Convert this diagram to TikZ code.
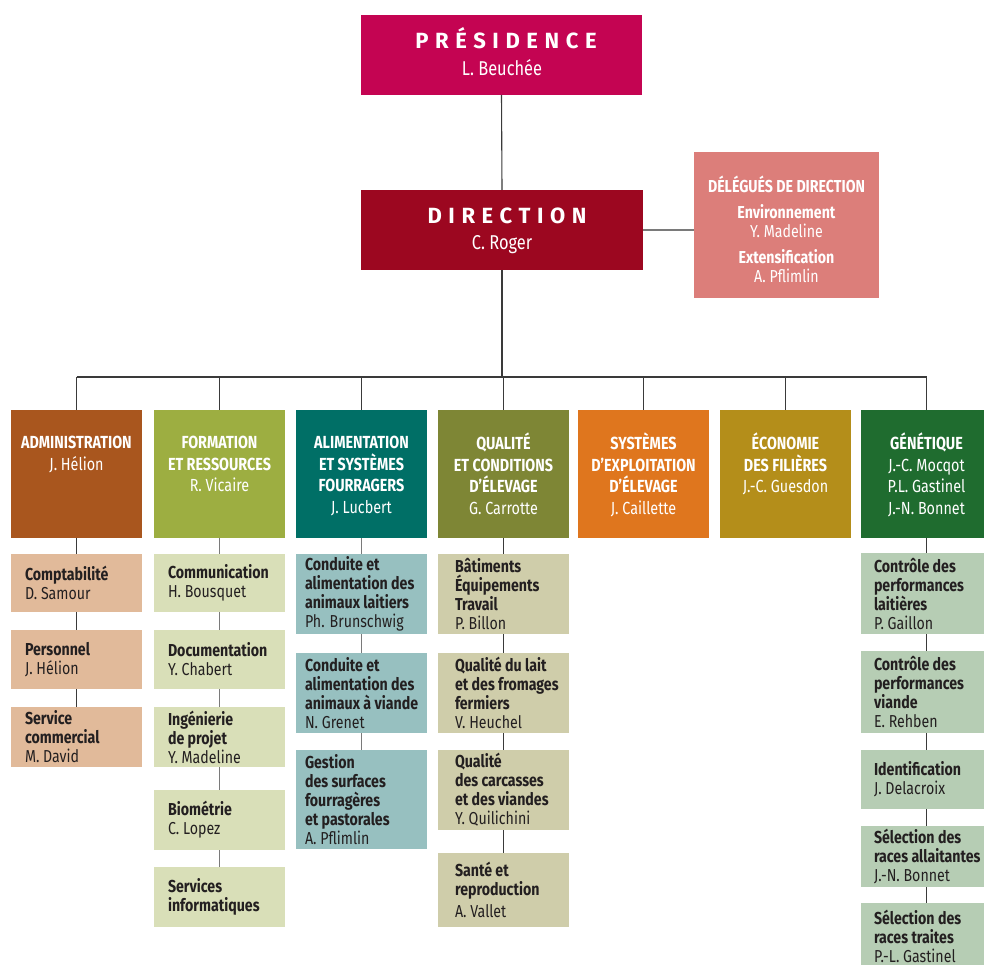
\documentclass[tikz,border=0pt]{standalone}
\usepackage{fontspec}
\setmainfont{Fira Sans}[FakeStretch=0.82]
\newfontfamily\spacedfont{Fira Sans}[LetterSpace=30]
\definecolor{presc}{HTML}{C40452}
\definecolor{dirc}{HTML}{9C0720}
\definecolor{delc}{HTML}{DC7E7A}
\definecolor{admc}{HTML}{A9561E}
\definecolor{formc}{HTML}{9DAE41}
\definecolor{alimc}{HTML}{006F66}
\definecolor{qualc}{HTML}{7E8635}
\definecolor{sysc}{HTML}{DF761E}
\definecolor{ecoc}{HTML}{B48E1A}
\definecolor{genc}{HTML}{1F6C2F}
\definecolor{admL}{HTML}{E1BA9A}
\definecolor{formL}{HTML}{D9DFB8}
\definecolor{alimL}{HTML}{97C0C0}
\definecolor{qualL}{HTML}{CFCDAA}
\definecolor{genL}{HTML}{B6CDB4}
\definecolor{linec}{HTML}{3A3A3A}
\definecolor{lineg}{HTML}{7A7A7A}
\definecolor{txt}{HTML}{231F20}
\tikzset{
  every node/.style={inner sep=0pt, outer sep=0pt},
  box/.style={anchor=north west, minimum width=131pt},
  link/.style={draw=linec, line width=1.1pt},
  glink/.style={draw=lineg, line width=1.3pt},
  hdtext/.style={anchor=north, align=center, text=white, font=\fontsize{17.5}{21.5}\selectfont},
  subtext/.style={anchor=west, align=left, text=txt, font=\fontsize{17.3}{19}\selectfont},
}
\newcommand\dept[4]{%
  \node[box, fill=#3, minimum height=128pt] (#1) at (#2,410) {};
  \node[hdtext] (#1t) at ([yshift=-23pt]#1.north) {\rule{0pt}{15.5pt}#4};
}
\newcommand\subbx[7]{%
  \node[box, fill=#5, minimum height=#4pt] (#1) at (#2,#3) {};
  \node[subtext] (#1t) at ([xshift=#6pt]#1.west) {#7};
}
\begin{document}
\begin{tikzpicture}[x=1pt,y=-1pt]
\useasboundingbox (0,0) rectangle (984,965);
\fill[white] (0,0) rectangle (984,965);

% top
\node[anchor=north west, fill=presc, minimum width=281pt, minimum height=80pt] (pres) at (361,15) {};
\node[anchor=base, text=white, font=\spacedfont\bfseries\fontsize{22}{22}\selectfont] (prest) at (506,48.5) {PRÉSIDENCE};
\node[anchor=base, text=white, font=\fontsize{20}{20}\selectfont] (presn) at (502,76) {L. Beuchée};

\node[anchor=north west, fill=dirc, minimum width=282pt, minimum height=80pt] (dir) at (361,190) {};
\node[anchor=base, text=white, font=\spacedfont\bfseries\fontsize{22}{22}\selectfont] (dirt) at (507,223.5) {DIRECTION};
\node[anchor=base, text=white, font=\fontsize{20}{20}\selectfont] (dirn) at (502,250) {C. Roger};

\node[anchor=north west, fill=delc, minimum width=185pt, minimum height=146pt] (del) at (694,152) {};
\node[anchor=north, align=center, text=white, font=\fontsize{17.3}{19}\selectfont] (delt) at (786.5,176)
  {\rule{0pt}{15.5pt}\textbf{DÉLÉGUÉS DE DIRECTION}\\[7pt]\textbf{Environnement}\\Y. Madeline\\[7pt]\textbf{Extensification}\\A. Pflimlin};

\draw[link] (pres.south) -- (dir.north);
\draw[glink] (dir.east) -- (dir.east -| del.west);

% departments
\dept{adm}{11}{admc}{\textbf{ADMINISTRATION}\\J. Hélion}
\dept{form}{154}{formc}{\textbf{FORMATION}\\\textbf{ET RESSOURCES}\\R. Vicaire}
\dept{alim}{296}{alimc}{\textbf{ALIMENTATION}\\\textbf{ET SYSTÈMES}\\\textbf{FOURRAGERS}\\J. Lucbert}
\dept{qual}{438}{qualc}{\textbf{QUALITÉ}\\\textbf{ET CONDITIONS}\\\textbf{D’ÉLEVAGE}\\G. Carrotte}
\dept{sys}{578}{sysc}{\textbf{SYSTÈMES}\\\textbf{D’EXPLOITATION}\\\textbf{D’ÉLEVAGE}\\J. Caillette}
\dept{eco}{720}{ecoc}{\textbf{ÉCONOMIE}\\\textbf{DES FILIÈRES}\\J.-C. Guesdon}
\dept{gen}{861}{genc}{\textbf{GÉNÉTIQUE}\\J.-C. Mocqot\\P.L. Gastinel\\J.-N. Bonnet}

\coordinate (bus) at (0,377);
\draw[link] (dir.south) -- (dir.south |- bus);
\draw[link] (adm.north |- bus) -- (gen.north |- bus);
\foreach \d in {adm,form,alim,qual,sys,eco,gen} {
  \draw[link] (\d.north |- bus) -- (\d.north);
}

% administration column
\subbx{a1}{11}{554}{58}{admL}{14}{\textbf{Comptabilité}\\D. Samour}
\subbx{a2}{11}{630}{59}{admL}{14}{\textbf{Personnel}\\J. Hélion}
\subbx{a3}{11}{707}{60}{admL}{14}{\textbf{Service}\\\textbf{commercial}\\M. David}
\draw[link] (adm.south) -- (a1.north);
\draw[link] (a1.south) -- (a2.north);
\draw[link] (a2.south) -- (a3.north);

% formation column
\subbx{f1}{154}{554}{58}{formL}{14}{\textbf{Communication}\\H. Bousquet}
\subbx{f2}{154}{630}{59}{formL}{14}{\textbf{Documentation}\\Y. Chabert}
\subbx{f3}{154}{707}{60}{formL}{14}{\textbf{Ingénierie}\\\textbf{de projet}\\Y. Madeline}
\subbx{f4}{154}{790}{60}{formL}{14}{\textbf{Biométrie}\\C. Lopez}
\subbx{f5}{154}{867}{60}{formL}{14}{\textbf{Services}\\\textbf{informatiques}}
\draw[glink] (form.south) -- (f1.north);
\draw[glink] (f1.south) -- (f2.north);
\draw[glink] (f2.south) -- (f3.north);
\draw[glink] (f3.south) -- (f4.north);
\draw[glink] (f4.south) -- (f5.north);

% alimentation column
\subbx{l1}{296}{554}{80}{alimL}{9}{\textbf{Conduite et}\\\textbf{alimentation des}\\\textbf{animaux laitiers}\\Ph. Brunschwig}
\subbx{l2}{296}{653}{80}{alimL}{9}{\textbf{Conduite et}\\\textbf{alimentation des}\\\textbf{animaux à viande}\\N. Grenet}
\subbx{l3}{296}{750}{99}{alimL}{9}{\textbf{Gestion}\\\textbf{des surfaces}\\\textbf{fourragères}\\\textbf{et pastorales}\\A. Pflimlin}
\draw[glink] (alim.south) -- (l1.north);
\draw[glink] (l1.south) -- (l2.north);
\draw[glink] (l2.south) -- (l3.north);

% qualite column
\subbx{q1}{438}{554}{80}{qualL}{17}{\textbf{Bâtiments}\\\textbf{Équipements}\\\textbf{Travail}\\P. Billon}
\subbx{q2}{438}{653}{80}{qualL}{17}{\textbf{Qualité du lait}\\\textbf{et des fromages}\\\textbf{fermiers}\\V. Heuchel}
\subbx{q3}{438}{750}{80}{qualL}{17}{\textbf{Qualité}\\\textbf{des carcasses}\\\textbf{et des viandes}\\Y. Quilichini}
\subbx{q4}{438}{853}{74}{qualL}{17}{\textbf{Santé et}\\\textbf{reproduction}\\[3pt]A. Vallet}
\draw[link] (qual.south) -- (q1.north);
\draw[link] (q1.south) -- (q2.north);
\draw[link] (q2.south) -- (q3.north);
\draw[link] (q3.south) -- (q4.north);

% genetique column
\subbx{g1}{861}{553}{81}{genL}{13}{\textbf{Contrôle des}\\\textbf{performances}\\\textbf{laitières}\\P. Gaillon}
\subbx{g2}{861}{651}{82}{genL}{13}{\textbf{Contrôle des}\\\textbf{performances}\\\textbf{viande}\\E. Rehben}
\subbx{g3}{861}{750}{59}{genL}{13}{\textbf{Identification}\\J. Delacroix}
\subbx{g4}{861}{826}{61}{genL}{13}{\textbf{Sélection des}\\\textbf{races allaitantes}\\J.-N. Bonnet}
\subbx{g5}{861}{903}{66}{genL}{13}{\textbf{Sélection des}\\\textbf{races traites}\\P.-L. Gastinel}
\draw[link] (gen.south) -- (g1.north);
\draw[link] (g1.south) -- (g2.north);
\draw[link] (g2.south) -- (g3.north);
\draw[link] (g3.south) -- (g4.north);
\draw[link] (g4.south) -- (g5.north);
\end{tikzpicture}
\end{document}
